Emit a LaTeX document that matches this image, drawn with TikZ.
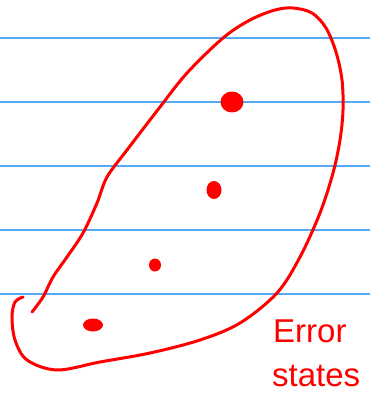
\documentclass[tikz,border=0pt]{standalone}
\usepackage{fontspec}
\setmainfont{Liberation Sans}
\definecolor{rulec}{HTML}{55AAF5}
\definecolor{inkred}{HTML}{FF0000}
\tikzset{
  rule/.style={draw=rulec, line width=1.5pt},
  ink/.style={draw=inkred, line width=3pt, line cap=round, line join=round},
  blob/.style={fill=inkred},
  hand/.style={text=inkred, font=\fontsize{33}{33}\selectfont, inner sep=0pt, anchor=base west}
}
\begin{document}
\begin{tikzpicture}[x=1pt,y=-1pt]
\useasboundingbox[fill=white] (0,0) rectangle (370,393);
\foreach \yy in {38,102,166,230,294} \draw[rule] (0,\yy) -- (370,\yy);
\draw[ink] plot[smooth, tension=0.55] coordinates {
 (32,312) (43,297) (53,277) (67,257) (83,233) (97,203) (107,177) (127,150)
 (160,107) (187,73) (223,38) (250,20) (275,10) (293,8) (312,13) (326,28)
 (336,52) (342,80) (343,110) (340,140) (333,173) (320,213) (300,257) (277,293) (240,323)
 (200,340) (150,353) (100,362) (57,370) (27,360) (15,340) (12,317) (15,302) (23,297)};
\fill[blob] (232,102) ellipse [x radius=11.5, y radius=10.5];
\fill[blob] (214,190) ellipse [x radius=7.5, y radius=9];
\fill[blob] (155,265) ellipse [x radius=6, y radius=6.5];
\fill[blob] (93,325) ellipse [x radius=10, y radius=6.5];
\node[hand] (lab1) at (273,342) {Error};
\node[hand] (lab2) at (272,386) {states};
\end{tikzpicture}
\end{document}
